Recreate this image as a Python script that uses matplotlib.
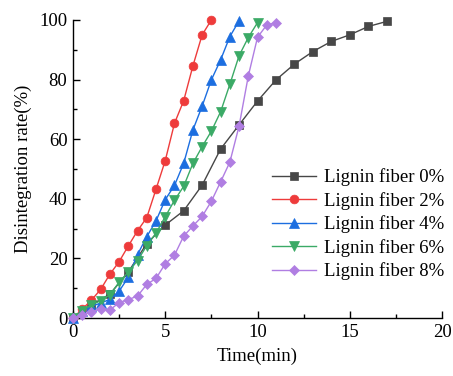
import numpy as np
import matplotlib
matplotlib.use("Agg")
import matplotlib.pyplot as plt
from matplotlib.ticker import MultipleLocator

plt.rcParams['font.family'] = ['Liberation Serif', 'DejaVu Serif']
plt.rcParams['mathtext.fontset'] = 'stix'

# Disintegration data (time in minutes, rate in %)
t_0 = np.arange(0, 17.5, 1.0)
rate_0 = [0, 4.5, 8, 15.5, 25, 31.2, 36, 44.6, 56.7, 64.8, 72.8,
          79.9, 85.2, 89.4, 92.8, 95, 97.8, 99.5]

t_2 = np.arange(0, 8.0, 0.5)
rate_2 = [0, 3, 6, 9.6, 14.7, 18.9, 24.2, 29.3, 33.7, 43.2, 52.8,
          65.3, 72.9, 84.6, 95, 100]

t_4 = np.arange(0, 9.5, 0.5)
rate_4 = [0, 2.5, 4, 5, 6.3, 9, 13.7, 21.3, 27.3, 32.6, 39.7, 44.5,
          51.9, 63.1, 71.1, 79.9, 86.6, 94.4, 99.7]

t_6 = np.arange(0, 10.5, 0.5)
rate_6 = [0, 2.5, 4.4, 5.8, 7.8, 12, 15.5, 19.3, 24.3, 28.5, 34, 39.5,
          44.2, 51.9, 57.5, 62.7, 69.2, 78.4, 88, 94.1, 99.1]

t_8 = np.arange(0, 11.5, 0.5)
rate_8 = [0, 1, 2.1, 3.1, 2.7, 5.2, 6.2, 7.4, 11.3, 13.3, 18.2, 21.1,
          27.5, 30.9, 34.1, 39.2, 45.7, 52.3, 64.4, 81.2, 94.2, 98.3, 99.1]

labels = ["Lignin fiber 0%", "Lignin fiber 2%", "Lignin fiber 4%",
          "Lignin fiber 6%", "Lignin fiber 8%"]
colors = ["#474747", "#EE3B3B", "#1C6EE0", "#3BAA66", "#B07EE2"]
markers = ["s", "o", "^", "v", "D"]
msizes = [5.8, 6.3, 6.8, 6.8, 5.3]

fig = plt.figure(figsize=(4.53, 3.76), dpi=100)
ax = fig.add_axes([0.161, 0.154, 0.815, 0.793])

series = [(t_0, rate_0), (t_2, rate_2), (t_4, rate_4), (t_6, rate_6), (t_8, rate_8)]
for (t, r), lab, c, m, ms in zip(series, labels, colors, markers, msizes):
    ax.plot(t, r, color=c, lw=1.0, marker=m, markersize=ms,
            markerfacecolor=c, markeredgecolor=c, markeredgewidth=0.5,
            label=lab, clip_on=False, zorder=3)

ax.set_xlim(0, 20)
ax.set_ylim(0, 100)
ax.xaxis.set_major_locator(MultipleLocator(5))
ax.xaxis.set_minor_locator(MultipleLocator(2.5))
ax.yaxis.set_major_locator(MultipleLocator(20))
ax.yaxis.set_minor_locator(MultipleLocator(10))

for side in ("top", "right"):
    ax.spines[side].set_visible(False)
for side in ("left", "bottom"):
    ax.spines[side].set_linewidth(1.0)

ax.tick_params(which="major", direction="in", length=5, width=1.0,
               labelsize=13.5, pad=4)
ax.tick_params(which="minor", direction="in", length=3, width=1.0)

ax.set_xlabel("Time(min)", fontsize=13.5, labelpad=5)
ax.set_ylabel("Disintegration rate(%)", fontsize=13.5, labelpad=5)

ax.legend(loc="upper left", bbox_to_anchor=(0.52, 0.527), frameon=False,
          fontsize=13.5, handlelength=2.3, handletextpad=0.45,
          labelspacing=0.3, borderaxespad=0)

fig.savefig("out.png", dpi=100)
